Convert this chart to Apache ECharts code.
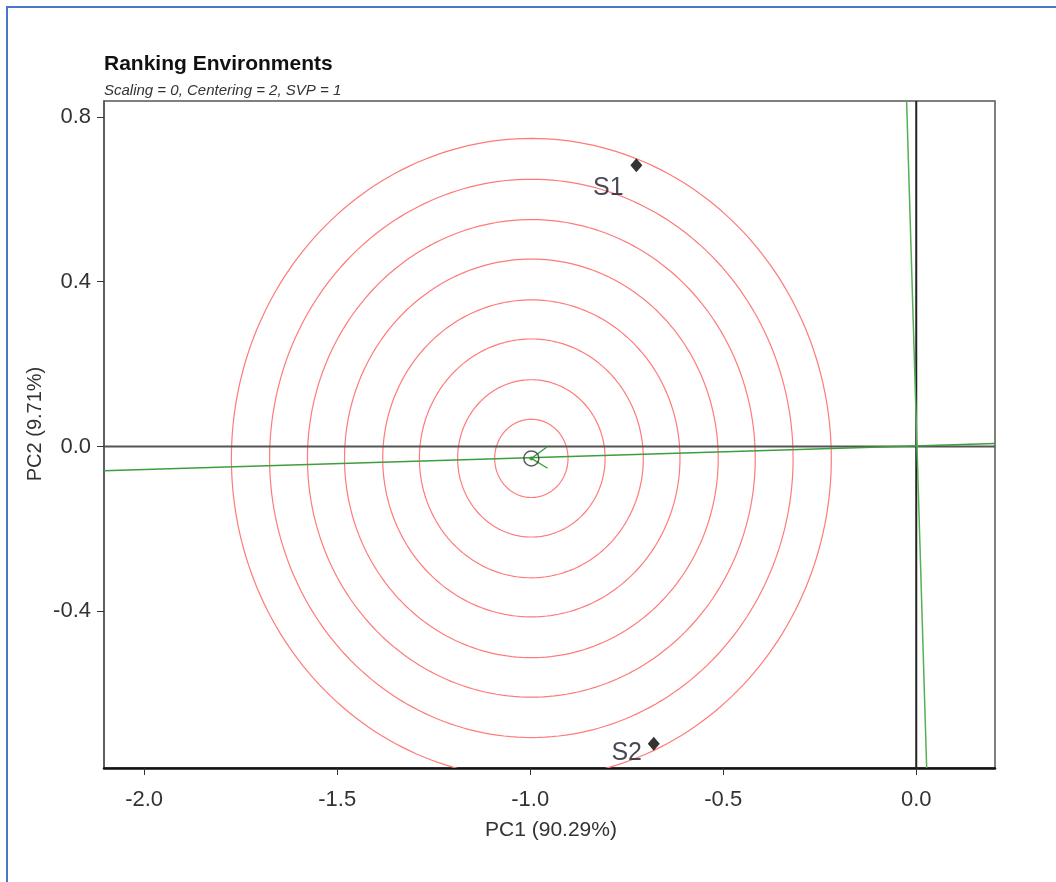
<!DOCTYPE html>
<html>
<head>
<meta charset="utf-8">
<script src="https://cdn.jsdelivr.net/npm/echarts@6/dist/echarts.min.js"></script>
<style>html,body{margin:0;padding:0;background:#fff;}#c{width:1056px;height:882px;}</style>
</head>
<body>
<div id="c"></div>
<script>
// ---- data ----
const envNames = ['S1', 'S2'];
const envX = [-0.725, -0.680];
const envY = [0.683, -0.722];
// average-environment point (circle marker, centre of concentric rings)
const aecX = -0.997;
const aecY = -0.029;
// radii of the concentric rings
const ringRadii = [0.095, 0.191, 0.290, 0.385, 0.484, 0.580, 0.678, 0.777];
// average environment axis (through origin) endpoints
const ateX = [-2.104, 0.204];
const ateY = [-0.059, 0.007];
// perpendicular axis endpoints
const perpX = [-0.025, 0.027];
const perpY = [0.839, -0.781];
// short arrow head at the average environment point
const arrowX = [-0.955, -0.997, -0.955];
const arrowY = [0.000, -0.029, -0.053];
// tick labels
const xTicks = [-2.0, -1.5, -1.0, -0.5, 0.0];
const yTicks = [-0.4, 0.0, 0.4, 0.8];
const xRange = [-2.104, 0.204];
const yRange = [-0.781, 0.839];

const labelOffsets = { S1: [-28, 23], S2: [-27, 9] };
const FONT = 'Liberation Sans, Arial, sans-serif';

const chart = echarts.init(document.getElementById('c'), null, { renderer: 'canvas' });

const option = {
  backgroundColor: '#fff',
  animation: false,
  title: {
    text: 'Ranking Environments',
    subtext: 'Scaling = 0, Centering = 2, SVP = 1',
    left: 104, top: 54, padding: 0, itemGap: 8,
    textStyle: { fontFamily: FONT, fontSize: 21, fontWeight: 'bold', color: '#111' },
    subtextStyle: { fontFamily: FONT, fontSize: 15, fontStyle: 'italic', color: '#333' }
  },
  grid: {
    left: 104, top: 101, right: 61, bottom: 114,
    show: true, borderColor: '#555', borderWidth: 1.5, backgroundColor: 'transparent'
  },
  xAxis: {
    type: 'value', min: xRange[0], max: xRange[1],
    axisLine: { show: true, onZero: false, lineStyle: { color: '#111', width: 2.5 } },
    axisTick: { show: true, length: 7, customValues: xTicks, lineStyle: { color: '#333', width: 1 } },
    axisLabel: { customValues: xTicks, margin: 21, fontFamily: FONT, fontSize: 22, color: '#333',
      formatter: v => v.toFixed(1) },
    splitLine: { show: false }
  },
  yAxis: {
    type: 'value', min: yRange[0], max: yRange[1],
    axisLine: { show: true, onZero: false, lineStyle: { color: '#555', width: 1.5 } },
    axisTick: { show: true, length: 7, customValues: yTicks, lineStyle: { color: '#333', width: 1 } },
    axisLabel: { customValues: yTicks, margin: 13, fontFamily: FONT, fontSize: 22, color: '#333',
      formatter: v => v.toFixed(1) },
    splitLine: { show: false }
  },
  graphic: [
    { type: 'rect', shape: { x: 7, y: 7, width: 1100, height: 900 },
      style: { fill: null, stroke: '#4a78c8', lineWidth: 2 }, silent: true },
    { type: 'text', x: 551, y: 830,
      style: { text: 'PC1 (90.29%)', fontFamily: FONT, fontSize: 21, fill: '#333',
        align: 'center', verticalAlign: 'middle' }, z: 10 },
    { type: 'text', x: 35, y: 424, rotation: Math.PI / 2,
      style: { text: 'PC2 (9.71%)', fontFamily: FONT, fontSize: 20, fill: '#333',
        align: 'center', verticalAlign: 'middle' }, z: 10 }
  ],
  series: [
    {
      type: 'custom',
      clip: true,
      silent: true,
      data: ringRadii.map(r => [aecX, aecY, r]),
      encode: { x: 0, y: 1 },
      renderItem: function (params, api) {
        const cx = api.value(0), cy = api.value(1), r = api.value(2);
        const pts = [];
        const n = 240;
        for (let i = 0; i <= n; i++) {
          const t = i / n * Math.PI * 2;
          pts.push(api.coord([cx + r * Math.cos(t), cy + r * Math.sin(t)]));
        }
        const cs = params.coordSys;
        return {
          type: 'polyline',
          shape: { points: pts },
          style: { stroke: '#ff7a7a', fill: null, lineWidth: 1.2 },
          clipPath: { type: 'rect', shape: { x: cs.x, y: cs.y, width: cs.width, height: cs.height } }
        };
      },
      z: 2
    },
    // x = 0 and y = 0 reference lines
    {
      type: 'line', silent: true, symbol: 'none', z: 3,
      data: [[xRange[0], 0], [xRange[1], 0]],
      lineStyle: { color: '#555', width: 2 }
    },
    {
      type: 'line', silent: true, symbol: 'none', z: 3,
      data: [[0, yRange[0]], [0, yRange[1]]],
      lineStyle: { color: '#222', width: 2 }
    },
    // average environment axis
    {
      type: 'line', silent: true, symbol: 'none', z: 4,
      data: ateX.map((x, i) => [x, ateY[i]]),
      lineStyle: { color: '#3d9e3d', width: 1.5 }
    },
    {
      type: 'line', silent: true, symbol: 'none', z: 4,
      data: perpX.map((x, i) => [x, perpY[i]]),
      lineStyle: { color: '#55b055', width: 1.5 }
    },
    {
      type: 'line', silent: true, symbol: 'none', z: 4,
      data: arrowX.map((x, i) => [x, arrowY[i]]),
      lineStyle: { color: '#3d9e3d', width: 1.3 }
    },
    // average environment marker
    {
      type: 'scatter', silent: true, z: 5,
      data: [[aecX, aecY]],
      symbol: 'circle', symbolSize: 15,
      itemStyle: { color: 'rgba(0,0,0,0)', borderColor: '#333', borderWidth: 1.5 }
    },
    {
      type: 'scatter', silent: true, z: 6,
      data: [[aecX, aecY]],
      symbol: 'circle', symbolSize: 4,
      itemStyle: { color: '#2e8b2e' }
    },
    // environments
    {
      type: 'scatter', silent: true, z: 7,
      data: envNames.map((n, i) => ({
        name: n, value: [envX[i], envY[i]],
        label: { offset: labelOffsets[n] }
      })),
      symbol: 'diamond', symbolSize: [12, 14],
      itemStyle: { color: '#000' },
      label: {
        show: true, position: 'inside', formatter: p => p.name,
        fontFamily: FONT, fontSize: 25, color: '#1a1a2a'
      }
    }
  ]
};
chart.setOption(option);
</script>
</body>
</html>
